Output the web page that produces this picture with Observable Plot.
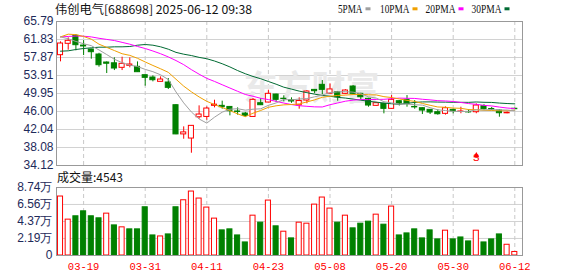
<!DOCTYPE html>
<html><head><meta charset="utf-8">
<script src="https://cdn.jsdelivr.net/npm/d3@7"></script>
<script src="https://cdn.jsdelivr.net/npm/@observablehq/plot@0.6"></script>
<style>
html,body{margin:0;padding:0;background:#fff;}
#wrap{position:relative;width:578px;height:276px;overflow:hidden;background:#fff;}
#wrap svg{position:absolute;left:0;overflow:visible;}
</style></head><body><div id="wrap"></div>
<script>
// ---------- data ----------
const stockName = "伟创电气";
const stockCode = "688698";
const stamp = "2025-06-12 09:38";
const dates = ["03-14","03-17","03-18","03-19","03-20","03-21","03-24","03-25","03-26","03-27","03-28","03-31",
"04-01","04-02","04-03","04-07","04-08","04-09","04-10","04-11","04-14","04-15","04-16","04-17","04-18","04-21","04-22","04-23","04-24","04-25","04-28","04-29","04-30",
"05-06","05-07","05-08","05-09","05-12","05-13","05-14","05-15","05-16","05-19","05-20","05-21","05-22","05-23","05-26","05-27","05-28","05-29","05-30",
"06-03","06-04","06-05","06-06","06-09","06-10","06-11","06-12"];
const open  = [58.38,60.88,62.64,60.5,59.63,58.53,56.77,56.6,55.6,56.04,55.82,53.98,53.47,52.52,52.37,47.38,40.96,40.05,44.73,44.8,47.24,47.24,47.0,46.0,45.55,44.8,47.82,47.97,49.73,48.8,48.45,47.35,48.41,50.75,51.86,49.9,50.24,49.88,51.49,49.88,48.78,47.24,47.68,46.58,48.26,48.56,47.0,46.72,46.36,45.84,45.48,46.36,45.9,45.9,45.84,47.16,46.55,46.2,45.6,46.6];
const high  = [61.32,62.2,62.93,61.6,59.7,58.8,56.9,57.8,57.94,57.8,56.9,54.0,53.84,53.62,53.25,47.5,42.62,42.9,47.24,47.0,48.48,48.27,47.1,46.8,45.8,48.85,48.85,50.68,49.8,49.44,49.0,49.0,50.6,50.8,52.81,52.08,50.4,50.8,51.7,50.0,48.9,48.0,47.8,49.51,48.4,49.5,48.41,46.8,46.4,46.36,47.0,46.5,46.94,46.36,47.68,47.5,46.9,46.3,45.9,46.7];
const low   = [56.92,59.48,59.34,58.3,57.5,55.74,54.35,55.0,55.0,55.6,54.64,51.56,52.52,52.5,50.83,40.9,39.9,36.82,44.3,44.08,46.8,46.5,45.04,45.2,44.74,44.8,47.3,47.9,47.97,48.12,47.8,46.5,47.7,49.9,49.66,49.88,48.26,49.7,49.7,48.56,46.94,47.1,45.48,46.5,47.2,46.94,46.5,45.33,45.33,45.18,45.2,45.48,45.5,45.62,45.5,46.3,46.2,44.74,45.5,46.4];
const close = [60.95,61.54,60.58,60.3,59.04,56.18,56.5,55.45,56.48,56.33,54.64,53.4,52.88,53.03,51.2,40.96,41.4,42.84,45.33,46.65,47.5,46.94,46.06,45.9,45.04,48.56,47.38,49.88,48.56,48.75,48.2,48.3,50.39,50.46,50.76,50.85,49.14,50.61,49.88,49.14,47.31,47.82,46.58,48.56,47.75,47.6,46.9,46.2,45.77,45.4,46.72,46.06,46.0,45.8,47.31,46.5,46.45,45.62,45.7,46.5];
// volume in 万
const volume = [7.58,4.61,5.04,5.68,5.04,4.78,5.38,3.87,3.62,3.36,3.36,6.20,2.58,2.45,2.71,6.20,7.10,8.22,7.32,6.16,4.74,3.23,3.36,2.58,1.68,5.12,4.22,7.06,3.75,3.06,2.20,4.22,4.09,6.54,7.45,6.03,4.22,5.12,3.49,4.09,4.35,5.25,3.96,6.29,2.58,2.84,3.36,2.20,3.23,2.07,3.19,2.07,2.32,1.81,3.19,1.68,2.07,2.71,1.38,0.4543];
const ma5  = [62.4,62.0,61.4,60.9,60.48,59.53,58.52,57.49,56.73,56.19,55.88,55.26,54.75,54.06,53.03,50.29,47.89,45.89,44.35,43.44,44.74,45.85,46.50,46.61,46.29,46.50,46.59,47.35,47.88,48.63,48.55,48.74,48.84,49.22,49.62,50.15,50.32,50.36,50.25,49.92,49.22,48.95,48.15,47.88,47.60,47.66,47.48,47.40,46.84,46.37,46.20,46.03,45.99,46.00,46.38,46.33,46.41,46.34,46.32,46.15];
const ma10 = [62.4,63.0,62.9,62.5,61.9,60.8,60.1,59.4,58.7,58.34,57.70,56.89,56.12,55.39,54.61,53.09,51.58,50.32,49.20,48.23,47.52,46.87,46.19,45.48,44.86,45.62,46.22,46.92,47.25,47.46,47.53,47.66,48.10,48.55,49.12,49.35,49.53,49.60,49.73,49.77,49.68,49.64,49.26,49.07,48.76,48.44,48.22,47.77,47.36,46.99,46.93,46.75,46.70,46.42,46.38,46.27,46.22,46.16,46.16,46.27];
const ma20 = [62.4,62.5,62.6,62.55,62.4,62.1,61.85,61.6,61.2,60.8,60.3,59.85,59.3,58.7,58.0,57.2,56.3,55.2,54.2,53.28,52.61,51.88,51.16,50.44,49.74,49.35,48.90,48.62,48.22,47.85,47.52,47.27,47.14,47.02,46.99,47.49,47.87,48.26,48.49,48.62,48.61,48.65,48.68,48.81,48.94,48.90,48.87,48.69,48.55,48.38,48.31,48.20,47.98,47.74,47.57,47.35,47.22,46.97,46.76,46.63];
const ma30 = [59.26,59.34,59.63,59.85,60.0,60.14,60.14,60.22,60.22,60.29,60.58,60.73,60.58,60.22,59.7,59.0,58.6,58.3,57.9,57.6,57.1,56.5,55.8,55.0,54.3,53.7,53.2,52.6,52.0,51.34,50.92,50.48,50.14,49.81,49.53,49.35,49.11,48.95,48.73,48.49,48.24,48.06,47.85,47.70,47.58,47.80,47.99,48.10,48.11,48.07,48.05,48.02,48.02,48.01,48.09,48.02,47.99,47.85,47.75,47.68];
const maLabels = ["5PMA","10PMA","20PMA","30PMA"];
const priceTicks = [34.12,38.08,42.04,46.00,49.95,53.91,57.87,61.83,65.79];
const volTicks = [0,2.19,4.37,6.56,8.74];
const tickDates = ["03-19","03-31","04-11","04-23","05-08","05-20","05-30","06-12"];
const signals = [{date:"06-05", label:"S"}];
const volLabel = "成交量";
const watermark = "东方财富";

// ---------- styles ----------
const RED = "#ff0000", GREEN = "#008000", NAVY = "#1e2a5a";
const MA_COL = ["#a0a0a0","#f0a000","#ff00ff","#006a32"];
const maSeries = [ma5, ma10, ma20, ma30];
const HALF = 0.33;

const idx = d3.range(dates.length);
const rows = idx.map(i => ({i, o: open[i], h: high[i], l: low[i], c: close[i], v: volume[i],
  up: close[i] >= open[i],
  vup: i === 0 ? close[i] >= open[i] : close[i] >= close[i-1]}));
const tickIdx = tickDates.map(d => dates.indexOf(d));
const sigRows = signals.map(s => ({i: dates.indexOf(s.date), label: s.label}));
const xDomain = [-0.52, 60];
const baseStyle = {fontFamily: "'Liberation Sans', Arial, sans-serif", fontSize: "12px", background: "transparent", overflow: "visible"};

const price = Plot.plot({
  width: 578, height: 170, marginLeft: 56, marginRight: 56, marginTop: 21, marginBottom: 5,
  x: {type: "linear", domain: xDomain, axis: null},
  y: {domain: [34.12, 65.79]},
  color: {type: "identity"},
  style: baseStyle,
  marks: [
    Plot.ruleY(priceTicks, {stroke: "#d2d2d2"}),
    Plot.ruleX(tickIdx, {stroke: "#c8c8c8", strokeDasharray: "4,3"}),
    Plot.text([watermark], {frameAnchor: "top-left", dx: 187, dy: 54, text: d => d, lineAnchor: "top", textAnchor: "start",
      fontSize: 34, fontWeight: "bold", fill: "#e9e9e9", fontFamily: "'Noto Sans CJK SC'"}),
    Plot.ruleX(rows, {x: "i", y1: "l", y2: "h", stroke: d => d.up ? RED : GREEN}),
    Plot.rect(rows, {x1: d => d.i - HALF, x2: d => d.i + HALF,
      y1: d => Math.min(d.o, d.c), y2: d => Math.max(d.o, d.c),
      fill: d => d.up ? "#ffffff" : GREEN, stroke: d => d.up ? RED : GREEN}),
    ...[3,2,1,0].map(k => Plot.line(idx, {x: i => i, y: i => maSeries[k][i], stroke: MA_COL[k], strokeWidth: 1})),
    Plot.text(sigRows, {x: "i", frameAnchor: "bottom", text: "label", fill: RED, fontSize: 11, dy: -5,
      fontFamily: "'Liberation Mono', monospace"}),
    Plot.dot(sigRows, {x: "i", frameAnchor: "bottom", symbol: "triangle", r: 2.2, fill: RED, stroke: null, dy: -10}),
    Plot.frame({stroke: "#999"}),
    Plot.axisY(priceTicks, {tickSize: 0, tickPadding: 3, tickFormat: d => d.toFixed(2), fill: NAVY, fontSize: 12, label: null})
  ]
});

const vol = Plot.plot({
  width: 578, height: 106, marginLeft: 56, marginRight: 56, marginTop: 17, marginBottom: 21,
  x: {type: "linear", domain: xDomain},
  y: {domain: [0, 8.74]},
  color: {type: "identity"},
  style: baseStyle,
  marks: [
    Plot.ruleY(volTicks, {stroke: "#d2d2d2"}),
    Plot.ruleX(tickIdx, {stroke: "#c8c8c8", strokeDasharray: "4,3"}),
    Plot.rect(rows, {x1: d => d.i - HALF, x2: d => d.i + HALF, y1: 0, y2: "v",
      fill: d => d.vup ? "#ffffff" : GREEN, stroke: d => d.vup ? RED : GREEN}),
    Plot.frame({stroke: "#999"}),
    Plot.axisY(volTicks, {tickSize: 0, tickPadding: 4, tickFormat: d => d === 0 ? "0" : d.toFixed(2) + "万", fill: NAVY, fontSize: 12, label: null}),
    Plot.axisX(tickIdx, {tickSize: 0, tickPadding: 7, tickFormat: i => dates[i], fill: RED, fontSize: 10.5,
      fontFamily: "'Liberation Mono', monospace", label: null})
  ]
});

const wrap = document.getElementById("wrap");
price.style.top = "0px";
vol.style.top = "170px";
wrap.appendChild(price);
wrap.appendChild(vol);

// ---------- title, legend, volume label ----------
const ov = d3.create("svg").attr("width", 578).attr("height", 276).style("top", "0px");
ov.append("text").attr("x", 55).attr("y", 14)
  .attr("font-family", "'Noto Sans CJK SC'").attr("font-size", 12).attr("fill", "#111")
  .attr("textLength", 197).attr("lengthAdjust", "spacingAndGlyphs")
  .text(`${stockName}[${stockCode}] ${stamp}`);
const legX = [338, 380, 425.5, 471.5], legW = [24.5, 29.5, 30, 30];
maLabels.forEach((lab, k) => {
  ov.append("text").attr("x", legX[k]).attr("y", 12.5)
    .attr("font-family", "'Liberation Serif', serif").attr("font-size", 11.5).attr("fill", "#111")
    .attr("textLength", legW[k]).attr("lengthAdjust", "spacingAndGlyphs").text(lab);
  ov.append("rect").attr("x", legX[k] + legW[k] + 3).attr("y", 7.3).attr("width", 5).attr("height", 3).attr("fill", MA_COL[k]);
});
ov.append("text").attr("x", 57).attr("y", 181.5)
  .attr("font-family", "'Noto Sans CJK SC'").attr("font-size", 12).attr("fill", "#111")
  .attr("textLength", 66).attr("lengthAdjust", "spacingAndGlyphs")
  .text(`${volLabel}:${Math.round(volume[volume.length - 1] * 10000)}`);
wrap.appendChild(ov.node());
</script></body></html>
